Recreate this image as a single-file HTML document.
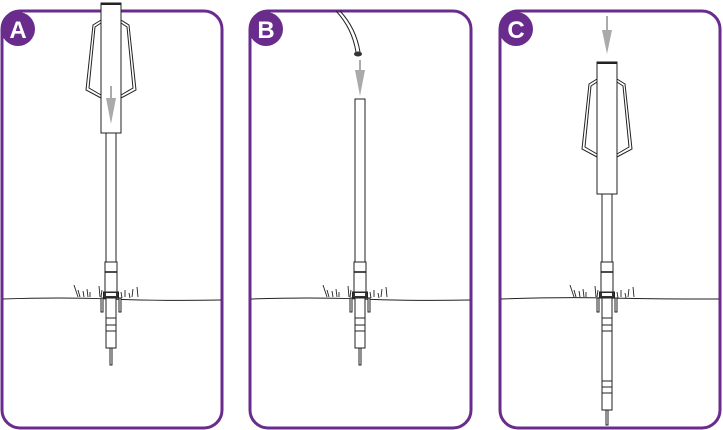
<!DOCTYPE html>
<html><head><style>html,body{margin:0;padding:0;background:#fff}svg{display:block}</style></head><body>
<svg width="723" height="430" viewBox="0 0 723 430" xmlns="http://www.w3.org/2000/svg">
<defs>
<g id="grass" fill="none" stroke="#222" stroke-width="0.9">
<path d="M-37,285 l4,12 M-33,290 l2,7 M-28,291 l1,6 M-24,289 l1,8 M-21,292 l0,5 M-12,286 l1,11 M-9,290 l-1,7 M10,292 l1,6 M14,290 l0,7 M18,293 l1,5 M22,289 l-1,8 M26,287 l1,10 M-4,291 l1,7"/>
</g>
<g id="lower" fill="#fff" stroke="#222" stroke-width="1">
<rect x="-6" y="262" width="12" height="30"/>
<line x1="-6" y1="272" x2="6" y2="272" stroke-width="1.6"/>
<rect x="-7.5" y="292" width="15" height="6" fill="#333"/>
<rect x="-5" y="293" width="10" height="3" fill="#fff" stroke="none"/>
<rect x="-10" y="298" width="2" height="14"/>
<rect x="8" y="298" width="2" height="14"/>
</g>
<g id="handles" fill="none" stroke="#222" stroke-width="1">
<path d="M-10,20 L-18,25 L-25,90 L-10,98 M-10,23 L-16,27 L-22,88 L-10,95"/>
<path d="M10,20 L18,25 L25,90 L10,98 M10,23 L16,27 L22,88 L10,95"/>
</g>
</defs>

<!-- Panels -->
<g fill="none" stroke="#6a2c8c" stroke-width="3">
<rect x="2" y="11" width="220" height="417" rx="18"/>
<rect x="250" y="11" width="221" height="417" rx="18"/>
<rect x="500" y="11" width="220" height="417" rx="18"/>
</g>
<g fill="#6a2c8c">
<circle cx="18" cy="29" r="17"/><circle cx="266" cy="29" r="17"/><circle cx="516" cy="29" r="17"/>
</g>
<g fill="#fff" font-family="Liberation Sans, sans-serif" font-weight="bold" font-size="24" text-anchor="middle">
<text x="18" y="38">A</text><text x="266" y="38">B</text><text x="516" y="38">C</text>
</g>

<!-- ground lines -->
<g fill="none" stroke="#222" stroke-width="1">
<path d="M3,299 Q60,297 110,299 T221,300"/>
<path d="M251,299 Q310,297 360,299 T470,300"/>
<path d="M501,299 Q560,297 607,298 T719,299"/>
</g>

<!-- Panel A -->
<g transform="translate(111,0)">
<use href="#grass"/>
<rect x="-5" y="133" width="10" height="129" fill="#fff" stroke="#222"/>
<use href="#lower"/>
<g fill="#fff" stroke="#222">
<rect x="-5" y="298" width="10" height="50"/>
<line x1="-5" y1="318" x2="5" y2="318"/><line x1="-5" y1="325" x2="5" y2="325"/><line x1="-5" y1="331" x2="5" y2="331"/>
<rect x="-1" y="348" width="2" height="17"/>
<rect x="-10" y="3" width="20" height="130"/>
<line x1="-10" y1="4" x2="10" y2="4" stroke-width="2"/>
</g>
<use href="#handles"/>
<line x1="0" y1="86" x2="0" y2="110" stroke="#aaa" stroke-width="2"/>
<polygon points="-5,98 5,98 0,124" fill="#aaa"/>
</g>

<!-- Panel B -->
<g transform="translate(360,0)">
<use href="#grass"/>
<path d="M-24,11 Q-8,28 -4,52 M-20,11 Q-4,28 0,52" fill="none" stroke="#222" stroke-width="1"/>
<ellipse cx="-2" cy="54" rx="4" ry="2.5" fill="#333"/>
<line x1="0" y1="60" x2="0" y2="75" stroke="#aaa" stroke-width="2"/>
<polygon points="-5,70 5,70 0,96" fill="#aaa"/>
<rect x="-5" y="99" width="10" height="163" fill="#fff" stroke="#222"/>
<use href="#lower"/>
<g fill="#fff" stroke="#222">
<rect x="-5" y="298" width="10" height="50"/>
<line x1="-5" y1="318" x2="5" y2="318"/><line x1="-5" y1="325" x2="5" y2="325"/><line x1="-5" y1="331" x2="5" y2="331"/>
<rect x="-1" y="348" width="2" height="17"/>
</g>
</g>

<!-- Panel C -->
<g transform="translate(607,0)">
<use href="#grass"/>
<line x1="0" y1="16" x2="0" y2="35" stroke="#aaa" stroke-width="2"/>
<polygon points="-5,30 5,30 0,54" fill="#aaa"/>
<rect x="-5" y="194" width="10" height="68" fill="#fff" stroke="#222"/>
<use href="#lower"/>
<g fill="#fff" stroke="#222">
<rect x="-5" y="298" width="10" height="112"/>
<line x1="-5" y1="318" x2="5" y2="318"/><line x1="-5" y1="325" x2="5" y2="325"/><line x1="-5" y1="331" x2="5" y2="331"/>
<line x1="-5" y1="381" x2="5" y2="381"/><line x1="-5" y1="387" x2="5" y2="387"/><line x1="-5" y1="393" x2="5" y2="393"/>
<rect x="-1" y="410" width="2" height="15"/>
<rect x="-10" y="62" width="20" height="132"/>
<line x1="-10" y1="63" x2="10" y2="63" stroke-width="2"/>
</g>
<use href="#handles" transform="translate(0,59)"/>
</g>
</svg>
</body></html>
